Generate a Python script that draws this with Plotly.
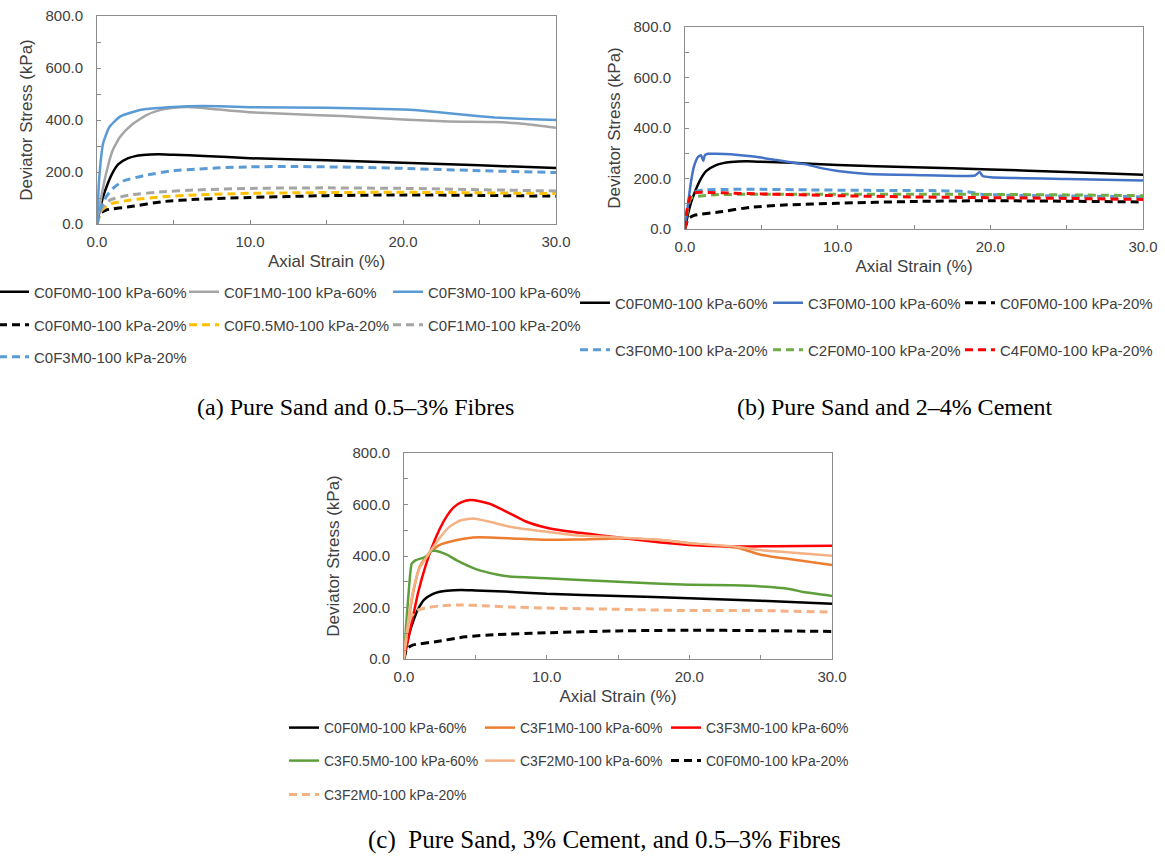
import plotly.graph_objects as go

W, H = 1165, 857

# ---------------- data: axial strain (%) vs deviator stress (kPa) ----------------
# shared reference curves
c0f0m0_60_x = [0, 0.2, 0.4, 0.7, 1.0, 1.4, 2, 2.5, 3, 4, 5, 7, 10, 15, 20, 25, 30]
c0f0m0_60_y = [0, 60, 105, 155, 195, 230, 252, 261, 265, 268, 266, 262, 253, 245, 236, 226, 215]
c0f0m0_20_x = [0, 0.2, 0.6, 2.2, 4.3, 6.5, 10, 15, 20, 25, 30]
c0f0m0_20_y = [0, 40, 54, 67, 86, 95, 102, 109, 112, 110, 107]

# panel (a)
c0f1m0_60_x = [0, 0.3, 0.6, 1.0, 1.5, 2.2, 3.2, 4.1, 5, 6, 8, 10, 13, 16, 20, 23, 26, 28, 30]
c0f1m0_60_y = [0, 110, 195, 280, 335, 378, 418, 438, 447, 450, 440, 430, 422, 415, 402, 394, 392, 385, 370]
c0f3m0_60_x = [0, 0.15, 0.4, 0.8, 1.5, 2.4, 3.2, 5, 6, 8, 10, 15, 20, 22, 24, 26, 28, 30]
c0f3m0_60_y = [0, 180, 310, 372, 413, 432, 442, 450, 453, 453, 449, 447, 440, 432, 420, 410, 404, 400]
c0f05m0_20_x = [0, 0.3, 0.85, 2.2, 4.3, 6.5, 10, 15, 20, 25, 30]
c0f05m0_20_y = [0, 52, 77, 92, 105, 112, 118, 121, 122, 120, 117]
c0f1m0_20_x = [0, 0.3, 0.85, 2.2, 4.3, 6.5, 10, 15, 20, 25, 30]
c0f1m0_20_y = [0, 60, 92, 112, 124, 131, 137, 139, 137, 132, 127]
c0f3m0_20_x = [0, 0.2, 0.6, 1.1, 1.7, 3.2, 5, 6.5, 8, 10, 13, 17, 20, 25, 30]
c0f3m0_20_y = [0, 55, 105, 140, 165, 188, 205, 211, 216, 220, 221, 218, 214, 205, 198]

# panel (b)
c3f0m0_60_x = [0, 0.2, 0.4, 0.6, 0.85, 1.05, 1.2, 1.3, 1.5, 2, 3, 4, 5, 6, 7, 8, 9, 10, 12, 15, 19, 19.3, 19.5, 20, 25, 30]
c3f0m0_60_y = [0, 100, 190, 250, 285, 292, 270, 292, 298, 298, 296, 290, 283, 273, 263, 255, 240, 230, 218, 214, 212, 226, 210, 205, 198, 192]
c3f0m0_20_x = [0, 0.15, 0.4, 0.7, 1.2, 3, 5, 8, 12, 16, 18.5, 19.5, 22, 26, 30]
c3f0m0_20_y = [0, 75, 130, 148, 155, 157, 157, 155, 153, 152, 148, 137, 133, 130, 128]
c2f0m0_20_x = [0, 0.15, 0.35, 0.7, 1.2, 2, 5, 10, 15, 20, 25, 30]
c2f0m0_20_y = [0, 70, 120, 128, 132, 136, 138, 138, 138, 137, 135, 132]
c4f0m0_20_x = [0, 0.15, 0.35, 0.6, 1.0, 1.5, 3, 5, 10, 15, 20, 25, 30]
c4f0m0_20_y = [0, 80, 130, 143, 146, 145, 142, 139, 132, 127, 124, 121, 117]

# panel (c)
c3f1m0_60_x = [0, 0.3, 0.65, 1.1, 1.8, 2.5, 3.7, 4.85, 6, 8, 10, 12, 15, 18, 20, 22, 23.5, 25, 27, 30]
c3f1m0_60_y = [0, 140, 260, 358, 414, 443, 462, 472, 472, 467, 463, 464, 468, 462, 450, 440, 430, 405, 388, 365]
c3f3m0_60_x = [0, 0.5, 1, 1.5, 2, 2.5, 3, 3.5, 4, 4.6, 5.3, 6, 7.4, 8.5, 10, 12, 15, 18, 20, 23, 26, 30]
c3f3m0_60_y = [0, 130, 260, 360, 440, 505, 555, 590, 608, 617, 613, 603, 566, 535, 510, 492, 472, 452, 443, 437, 438, 440]
c3f05m0_60_x = [0, 0.15, 0.3, 0.54, 0.8, 1.35, 1.7, 1.85, 2.2, 3, 3.7, 5, 6.5, 7.4, 10, 12, 15, 18, 20, 23, 25, 27, 28, 30]
c3f05m0_60_y = [0, 130, 240, 370, 383, 393, 402, 418, 420, 405, 383, 350, 328, 320, 314, 308, 300, 292, 288, 286, 282, 272, 260, 245]
c3f2m0_60_x = [0, 0.3, 0.65, 1.1, 1.8, 2.5, 3.2, 3.9, 4.85, 6, 7.4, 10, 12, 15, 18, 20, 23, 25, 28, 30]
c3f2m0_60_y = [0, 150, 268, 353, 414, 470, 514, 537, 546, 533, 514, 494, 481, 472, 462, 449, 438, 423, 410, 401]
c3f2m0_20_x = [0, 0.2, 0.5, 0.9, 1.5, 2.5, 3.7, 6, 7.4, 10, 15, 20, 25, 30]
c3f2m0_20_y = [0, 100, 165, 188, 198, 206, 210, 206, 202, 198, 193, 188, 188, 182]

# axis ticks
x_range = [0, 30]
y_range = [0, 800]
x_major, x_minor = 10, 5
y_major, y_minor = 200, 100

# captions
caption_a = "(a) Pure Sand and 0.5–3% Fibres"
caption_b = "(b) Pure Sand and 2–4% Cement"
caption_c = "(c)\u00a0\u00a0Pure Sand, 3% Cement, and 0.5–3% Fibres"

# ---------------- styling ----------------
BLACK = "#000000"
GRAY = "#A5A5A5"
LBLUE = "#5B9BD5"
DBLUE = "#4472C4"
GOLD = "#FFC000"
GREEN = "#70AD47"
DGREEN = "#5E9E3A"
RED = "#FF0000"
ORANGE = "#ED7D31"
LORANGE = "#F4B183"

SANS = "Liberation Sans, Arial, sans-serif"
SERIF = "Liberation Serif, Times New Roman, serif"
TXT = "#404040"
FRAME = "#8C8C8C"

panels = {
    "a": dict(xa="x", ya="y", xpx=(97, 556), ypx=(16, 224)),
    "b": dict(xa="x2", ya="y2", xpx=(685, 1143), ypx=(27, 229)),
    "c": dict(xa="x3", ya="y3", xpx=(404, 832), ypx=(453, 659)),
}
leg_cols = {"a": [34, 224, 428], "b": [615, 808, 1000], "c": [324, 520, 706]}
leg_rows = {"a": [292, 325, 357], "b": [303, 350], "c": [728, 761, 795]}
leg_font = {"a": 15, "b": 15, "c": 14}

spec = [
    ("a", "C0F0M0-100 kPa-60%", c0f0m0_60_x, c0f0m0_60_y, BLACK, False, 0, 0),
    ("a", "C0F1M0-100 kPa-60%", c0f1m0_60_x, c0f1m0_60_y, GRAY, False, 1, 0),
    ("a", "C0F3M0-100 kPa-60%", c0f3m0_60_x, c0f3m0_60_y, LBLUE, False, 2, 0),
    ("a", "C0F0M0-100 kPa-20%", c0f0m0_20_x, c0f0m0_20_y, BLACK, True, 0, 1),
    ("a", "C0F0.5M0-100 kPa-20%", c0f05m0_20_x, c0f05m0_20_y, GOLD, True, 1, 1),
    ("a", "C0F1M0-100 kPa-20%", c0f1m0_20_x, c0f1m0_20_y, GRAY, True, 2, 1),
    ("a", "C0F3M0-100 kPa-20%", c0f3m0_20_x, c0f3m0_20_y, LBLUE, True, 0, 2),
    ("b", "C0F0M0-100 kPa-60%", c0f0m0_60_x, c0f0m0_60_y, BLACK, False, 0, 0),
    ("b", "C3F0M0-100 kPa-60%", c3f0m0_60_x, c3f0m0_60_y, DBLUE, False, 1, 0),
    ("b", "C0F0M0-100 kPa-20%", c0f0m0_20_x, c0f0m0_20_y, BLACK, True, 2, 0),
    ("b", "C3F0M0-100 kPa-20%", c3f0m0_20_x, c3f0m0_20_y, LBLUE, True, 0, 1),
    ("b", "C2F0M0-100 kPa-20%", c2f0m0_20_x, c2f0m0_20_y, GREEN, True, 1, 1),
    ("b", "C4F0M0-100 kPa-20%", c4f0m0_20_x, c4f0m0_20_y, RED, True, 2, 1),
    ("c", "C0F0M0-100 kPa-60%", c0f0m0_60_x, c0f0m0_60_y, BLACK, False, 0, 0),
    ("c", "C3F1M0-100 kPa-60%", c3f1m0_60_x, c3f1m0_60_y, ORANGE, False, 1, 0),
    ("c", "C3F3M0-100 kPa-60%", c3f3m0_60_x, c3f3m0_60_y, RED, False, 2, 0),
    ("c", "C3F0.5M0-100 kPa-60%", c3f05m0_60_x, c3f05m0_60_y, DGREEN, False, 0, 1),
    ("c", "C3F2M0-100 kPa-60%", c3f2m0_60_x, c3f2m0_60_y, LORANGE, False, 1, 1),
    ("c", "C0F0M0-100 kPa-20%", c0f0m0_20_x, c0f0m0_20_y, BLACK, True, 2, 1),
    ("c", "C3F2M0-100 kPa-20%", c3f2m0_20_x, c3f2m0_20_y, LORANGE, True, 0, 2),
]

fig = go.Figure()
layout_legends = {}
for i, (p, name, xs, ys, color, dashed, col, row) in enumerate(spec, start=1):
    lid = "legend" if i == 1 else f"legend{i}"
    fig.add_trace(go.Scatter(
        x=xs, y=ys, name=name, mode="lines",
        xaxis=panels[p]["xa"], yaxis=panels[p]["ya"],
        line=dict(color=color, width=3 if dashed else 2.5,
                  dash="8px,5px" if dashed else "solid",
                  shape="spline", smoothing=0.5),
        legend=lid, showlegend=True,
    ))
    layout_legends[lid] = dict(
        x=(leg_cols[p][col] - 40) / W, xanchor="left",
        y=1 - leg_rows[p][row] / H, yanchor="middle",
        bgcolor="rgba(0,0,0,0)", borderwidth=0,
        font=dict(family=SANS, size=leg_font[p], color=TXT),
    )

axes = {}
for k, (p, d) in enumerate(panels.items(), start=1):
    suffix = "" if k == 1 else str(k)
    x0, x1 = d["xpx"]
    y0, y1 = d["ypx"]
    axes["xaxis" + suffix] = dict(
        domain=[x0 / W, x1 / W], anchor="y" + suffix, range=x_range,
        tick0=0, dtick=x_major, tickformat=".1f",
        ticks="inside", ticklen=4, tickcolor=FRAME, tickwidth=1,
        minor=dict(dtick=x_minor, ticks="inside", ticklen=4, tickcolor=FRAME, showgrid=False),
        showline=True, linecolor=FRAME, linewidth=1, mirror=True,
        showgrid=False, zeroline=False, automargin=False,
        ticklabelstandoff=4,
        tickfont=dict(family=SANS, size=15, color=TXT),
        title=dict(text="Axial Strain (%)", font=dict(family=SANS, size=17, color=TXT), standoff=6),
    )
    axes["yaxis" + suffix] = dict(
        domain=[1 - y1 / H, 1 - y0 / H], anchor="x" + suffix, range=y_range,
        tick0=0, dtick=y_major, tickformat=".1f",
        ticks="inside", ticklen=4, tickcolor=FRAME, tickwidth=1,
        minor=dict(dtick=y_minor, ticks="inside", ticklen=4, tickcolor=FRAME, showgrid=False),
        showline=True, linecolor=FRAME, linewidth=1, mirror=True,
        showgrid=False, zeroline=False, automargin=False,
        ticklabelstandoff=10,
        tickfont=dict(family=SANS, size=15, color=TXT),
        title=dict(text="Deviator Stress (kPa)", font=dict(family=SANS, size=17, color=TXT), standoff=8),
    )

captions = [
    (caption_a, 355, 407, 24),
    (caption_b, 895, 407, 24),
    (caption_c, 605, 840, 25),
]
annotations = [
    dict(text=t, x=cx / W, y=1 - cy / H, xref="paper", yref="paper",
         xanchor="center", yanchor="middle", showarrow=False,
         font=dict(family=SERIF, size=fs, color="#000000"))
    for t, cx, cy, fs in captions
]

fig.update_layout(
    width=W, height=H, template="none",
    margin=dict(l=0, r=0, t=0, b=0, pad=0, autoexpand=False),
    paper_bgcolor="white", plot_bgcolor="white",
    annotations=annotations,
    **axes, **layout_legends,
)

fig.write_html(
    "out.html",
    config={"displayModeBar": False},
    post_script="document.body.style.margin='0';document.body.style.overflow='hidden';",
)
